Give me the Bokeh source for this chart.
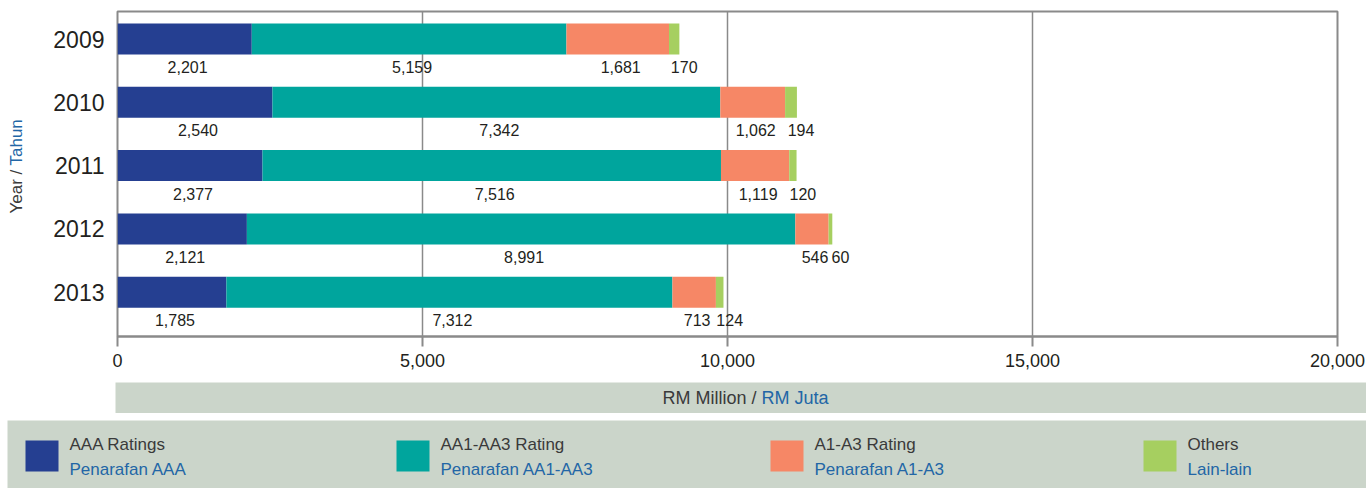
from bokeh.plotting import figure
from bokeh.models import Range1d, FixedTicker, NumeralTickFormatter, ColumnDataSource
from bokeh.layouts import column, row
from bokeh.core.properties import value
from bokeh.embed import file_html
from bokeh.resources import INLINE
import math

# ---------------- data ----------------
years = ["2009", "2010", "2011", "2012", "2013"]
aaa = [2201, 2540, 2377, 2121, 1785]
aa1_aa3 = [5159, 7342, 7516, 8991, 7312]
a1_a3 = [1681, 1062, 1119, 546, 713]
others = [170, 194, 120, 60, 124]
series_en = ["AAA Ratings", "AA1-AA3 Rating", "A1-A3 Rating", "Others"]
series_ms = ["Penarafan AAA", "Penarafan AA1-AA3", "Penarafan A1-A3", "Lain-lain"]
x_ticks = [0, 5000, 10000, 15000, 20000]
x_title_en = "RM Million /"
x_title_ms = "RM Juta"
y_title_en = "Year /"
y_title_ms = "Tahun"

# ---------------- style ----------------
colors = ["#253f91", "#00a59d", "#f68766", "#a6cf60"]
FONT = "Liberation Sans"
TXT = "#231f20"
GREY_TXT = "#3a3a3a"
BLUE = "#2266a6"
BAND = "#cbd5ca"
LINE = "#8a8a8a"

series = [aaa, aa1_aa3, a1_a3, others]
keys = ["aaa", "aa", "a", "oth"]
pos = list(range(len(years)))

src = ColumnDataSource(dict(pos=pos, aaa=aaa, aa=aa1_aa3, a=a1_a3, oth=others))

# ---------------- y title strip ----------------
yt = figure(width=40, height=382, x_range=Range1d(0, 40), y_range=Range1d(382, 0),
            min_border_left=0, min_border_right=0, min_border_top=0, min_border_bottom=0,
            toolbar_location=None, output_backend="svg", outline_line_color=None,
            x_axis_location=None, y_axis_location=None, frame_align=False)
yt.xgrid.visible = False
yt.ygrid.visible = False
yt.text(x=[16], y=[213], text=[y_title_en], angle=math.pi / 2, text_align="left",
        text_baseline="middle", text_font=value(FONT), text_font_size="17px",
        text_color=GREY_TXT)
yt.text(x=[16], y=[165], text=[y_title_ms], angle=math.pi / 2, text_align="left",
        text_baseline="middle", text_font=value(FONT), text_font_size="17px",
        text_color=BLUE)

# ---------------- main chart ----------------
p = figure(width=1326, height=382, x_range=Range1d(0, 20000), y_range=Range1d(4.70, -0.435),
           min_border_left=77, min_border_right=29, min_border_top=11, min_border_bottom=46,
           toolbar_location=None, output_backend="svg", background_fill_color="white",
           border_fill_color="white", frame_align=False)
p.outline_line_color = LINE
p.outline_line_width = 2

p.hbar_stack(keys, y="pos", height=0.49, color=colors, line_color=None, source=src)

# value labels under each segment
lx, ly, lt, lo = [], [], [], []
for i in range(len(years)):
    start = 0
    for s_idx, s in enumerate(series):
        v = s[i]
        lx.append(start + v / 2)
        ly.append(pos[i])
        lt.append(f"{v:,}")
        lo.append(10 if s_idx == len(series) - 1 else 3)
        start += v
lsrc = ColumnDataSource(dict(x=lx, y=ly, t=lt, xo=lo))
p.text(x="x", y="y", text="t", x_offset="xo", y_offset=28, source=lsrc,
       text_align="center", text_baseline="middle", text_font=value(FONT),
       text_font_size="16px", text_color=TXT)

# axes
p.xaxis.ticker = FixedTicker(ticks=x_ticks)
p.xaxis.formatter = NumeralTickFormatter(format="0,0")
p.xaxis.minor_tick_line_color = None
p.xaxis.major_tick_in = 0
p.xaxis.major_tick_out = 10
p.xaxis.major_tick_line_color = LINE
p.xaxis.major_tick_line_width = 2
p.xaxis.axis_line_color = LINE
p.xaxis.axis_line_width = 2
p.xaxis.major_label_text_font = FONT
p.xaxis.major_label_text_font_size = "18px"
p.xaxis.major_label_text_color = TXT
p.xaxis.major_label_standoff = 7

p.yaxis.ticker = FixedTicker(ticks=pos)
p.yaxis.major_label_overrides = {i: y for i, y in zip(pos, years)}
p.yaxis.minor_tick_line_color = None
p.yaxis.major_tick_line_color = None
p.yaxis.major_tick_in = 0
p.yaxis.major_tick_out = 0
p.yaxis.minor_tick_out = 0
p.yaxis.axis_line_color = None
p.yaxis.major_label_text_font = FONT
p.yaxis.major_label_text_font_size = "23px"
p.yaxis.major_label_text_color = TXT
p.yaxis.major_label_standoff = 13

p.ygrid.grid_line_color = None
p.xgrid.grid_line_color = LINE
p.xgrid.grid_line_width = 1.5

# ---------------- x title band ----------------
band = figure(width=1366, height=31, x_range=Range1d(115, 1366), y_range=Range1d(31, 0),
              min_border_left=115, min_border_right=0, min_border_top=0, min_border_bottom=0,
              background_fill_color=BAND, border_fill_color="white", outline_line_color=None,
              toolbar_location=None, output_backend="svg",
              x_axis_location=None, y_axis_location=None, frame_align=False)
band.xgrid.visible = False
band.ygrid.visible = False
band.text(x=[756], y=[15.5], text=[x_title_en], text_align="right", text_baseline="middle",
          text_font=value(FONT), text_font_size="18px", text_color=GREY_TXT)
band.text(x=[761], y=[15.5], text=[x_title_ms], text_align="left", text_baseline="middle",
          text_font=value(FONT), text_font_size="18px", text_color=BLUE)

# ---------------- legend band ----------------
leg = figure(width=1366, height=75, x_range=Range1d(7, 1366), y_range=Range1d(488, 420),
             min_border_left=7, min_border_right=0, min_border_top=7, min_border_bottom=0,
             background_fill_color=BAND, border_fill_color="white", outline_line_color=None,
             toolbar_location=None, output_backend="svg",
             x_axis_location=None, y_axis_location=None, frame_align=False)
leg.xgrid.visible = False
leg.ygrid.visible = False
sq_left = [25, 396, 770, 1143]
sq_w, sq_h = 33, 31
leg.rect(x=[l + sq_w / 2 for l in sq_left], y=[455.5] * 4, width=sq_w, height=sq_h,
         color=colors, line_color=None)
leg.text(x=[l + sq_w + 11 for l in sq_left], y=[444] * 4, text=series_en,
         text_align="left", text_baseline="middle", text_font=value(FONT),
         text_font_size="17px", text_color=GREY_TXT)
leg.text(x=[l + sq_w + 11 for l in sq_left], y=[469] * 4, text=series_ms,
         text_align="left", text_baseline="middle", text_font=value(FONT),
         text_font_size="17px", text_color=BLUE)

layout = column(row(yt, p, spacing=0), band, leg, spacing=0)
open("out.html", "w").write(file_html(layout, INLINE))
